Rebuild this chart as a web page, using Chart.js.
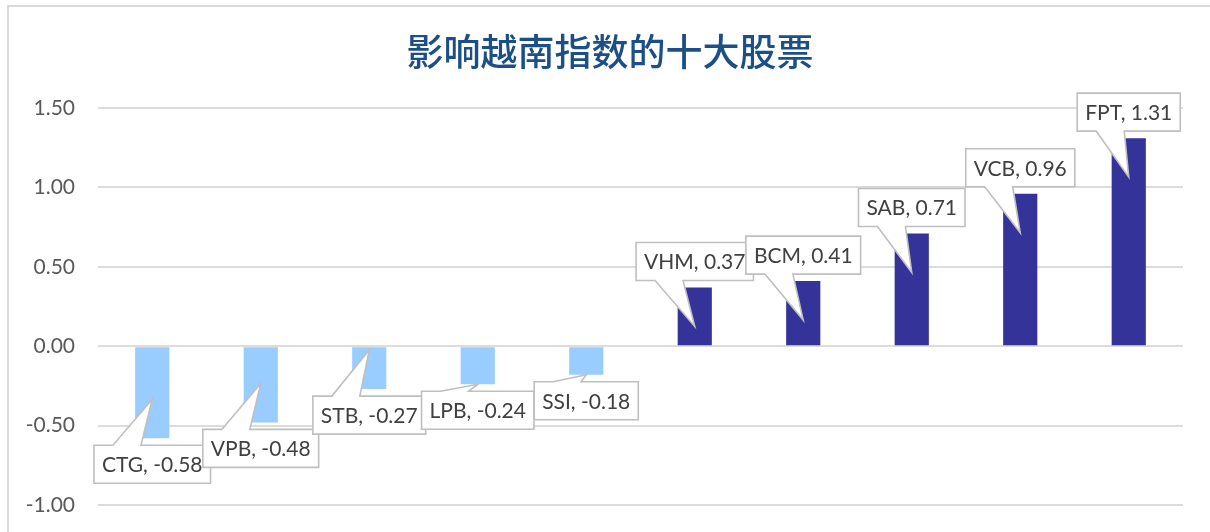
<!DOCTYPE html>
<html>
<head>
<meta charset="utf-8">
<script src="https://cdn.jsdelivr.net/npm/chart.js@4.4.1/dist/chart.umd.min.js"></script>
<style>
  body { margin: 0; background: #fff; }
  #wrap { position: relative; width: 1210px; height: 532px; overflow: hidden; }
  #frame { position: absolute; left: 7px; top: 5px; width: 1300px; height: 600px;
           border-top: 2px solid #dadada; border-left: 2px solid #dadada; }
  #myChart { position: absolute; left: 0; top: 0; }
</style>
</head>
<body>
<div id="wrap">
  <div id="frame"></div>
  <canvas id="myChart" width="1210" height="532"></canvas>
</div>
<script>
const chartTitle = '影响越南指数的十大股票';
const stocks = ['CTG', 'VPB', 'STB', 'LPB', 'SSI', 'VHM', 'BCM', 'SAB', 'VCB', 'FPT'];
const impact = [-0.58, -0.48, -0.27, -0.24, -0.18, 0.37, 0.41, 0.71, 0.96, 1.31];
const yMin = -1.0;
const yMax = 1.5;
const yStep = 0.5;

const posColor = '#333399';
const negColor = '#99CCFF';

// title centred on the whole frame, not on the plot
const titlePlugin = {
  id: 'frameTitle',
  afterDraw(chart) {
    const ctx = chart.ctx;
    ctx.save();
    ctx.font = '500 37px "Noto Sans CJK SC"';
    ctx.fillStyle = '#1b4f86';
    ctx.textAlign = 'center';
    ctx.textBaseline = 'middle';
    ctx.fillText(chartTitle, 610, 52);
    ctx.restore();
  }
};

// Excel-style callout labels: "NAME, value" in a box with a pointer into the bar
const calloutPlugin = {
  id: 'callouts',
  afterDatasetsDraw(chart) {
    const ctx = chart.ctx;
    const meta = chart.getDatasetMeta(0);
    ctx.save();
    ctx.font = '21px Lato';
    ctx.textAlign = 'center';
    ctx.textBaseline = 'middle';
    meta.data.forEach((bar, i) => {
      const v = impact[i];
      const text = stocks[i] + ', ' + v.toFixed(2);
      const w = ctx.measureText(text).width + 16;
      const h = 38;
      const left = bar.x - w / 2;
      const len = Math.abs(bar.base - bar.y);
      const depth = len >= 40 ? 39 : 0;
      ctx.beginPath();
      let top;
      if (v >= 0) {
        const bottom = bar.y - 7;
        top = bottom - h;
        const tipY = bar.y + depth;
        ctx.moveTo(left, top);
        ctx.lineTo(left + w, top);
        ctx.lineTo(left + w, bottom);
        ctx.lineTo(left + 47, bottom);
        ctx.lineTo(bar.x, tipY);
        ctx.lineTo(left + 19, bottom);
        ctx.lineTo(left, bottom);
      } else {
        top = bar.y + 7;
        const tipY = bar.y - depth;
        ctx.moveTo(left, top);
        ctx.lineTo(left + 19, top);
        ctx.lineTo(bar.x, tipY);
        ctx.lineTo(left + 47, top);
        ctx.lineTo(left + w, top);
        ctx.lineTo(left + w, top + h);
        ctx.lineTo(left, top + h);
      }
      ctx.closePath();
      ctx.fillStyle = '#ffffff';
      ctx.fill();
      ctx.lineWidth = 1.6;
      ctx.strokeStyle = '#bfbfbf';
      ctx.stroke();
      ctx.fillStyle = '#404040';
      ctx.fillText(text, bar.x, top + h / 2 + 1);
    });
    ctx.restore();
  }
};

function renderChart() {
  const data = {
    labels: stocks,
    datasets: [{
      label: chartTitle,
      data: impact,
      backgroundColor: impact.map(v => v >= 0 ? posColor : negColor),
      borderWidth: 0,
      categoryPercentage: 1,
      barPercentage: 0.315
    }]
  };

  const options = {
    responsive: false,
    animation: false,
    layout: { padding: { top: 108, left: 8, right: 27, bottom: 27 } },
    plugins: {
      legend: { display: false },
      tooltip: { enabled: false },
      title: { display: false }
    },
    scales: {
      x: { display: false },
      y: {
        min: yMin,
        max: yMax,
        afterFit: s => { s.width = 90; },
        border: { display: false },
        // invisible tick marks give the gap between labels and plot
        grid: { color: '#dcdcdc', lineWidth: 2, drawTicks: true, tickLength: 23, tickColor: 'rgba(0,0,0,0)' },
        ticks: {
          stepSize: yStep,
          padding: 0,
          color: '#595959',
          font: { family: 'Lato', size: 21 },
          callback: v => v.toFixed(2)
        }
      }
    }
  };

  const ctx = document.getElementById('myChart').getContext('2d');
  new Chart(ctx, { type: 'bar', data: data, options: options, plugins: [calloutPlugin, titlePlugin] });
}

renderChart();
</script>
</body>
</html>
